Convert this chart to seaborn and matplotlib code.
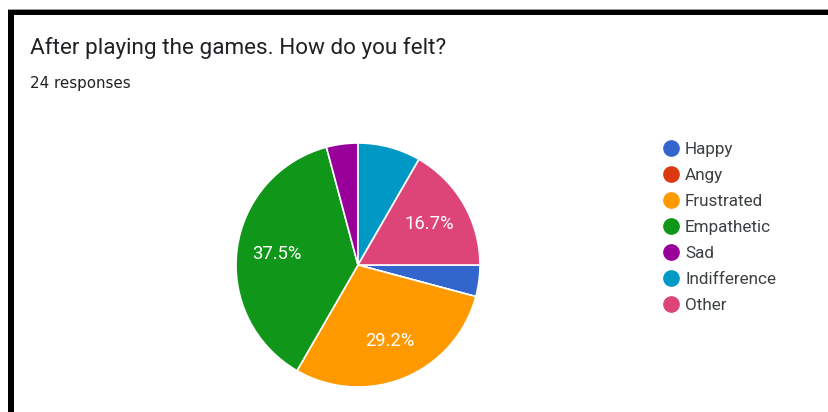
import matplotlib
matplotlib.use("Agg")
import matplotlib.pyplot as plt
from matplotlib.lines import Line2D
from matplotlib.patches import Rectangle
import seaborn as sns

# Survey answers
categories = ["Happy", "Angy", "Frustrated", "Empathetic", "Sad", "Indifference", "Other"]
counts = [1, 0, 7, 9, 1, 2, 4]
colors = ["#3366cc", "#dc3912", "#ff9900", "#109618", "#990099", "#0099c6", "#dd4477"]
title = "After playing the games. How do you felt?"
subtitle = "24 responses"

sns.set_theme(style="white")
plt.rcParams["font.family"] = ["Roboto", "DejaVu Sans"]

W, H = 829, 412
fig = plt.figure(figsize=(W / 100, H / 100), dpi=100)
fig.patch.set_facecolor("white")

def fx(px):
    return px / W

def fy(py):
    return 1 - py / H

# Pie area: centre (358, 265), radius 122 px
cx, cy, r = 358, 265, 122
ax = fig.add_axes([fx(cx - r), fy(cy + r), 2 * r / W, 2 * r / H])

def pct_label(p):
    return f"{p:.1f}%" if p >= 10 else ""

wedges, texts, autotexts = ax.pie(
    counts,
    colors=colors,
    startangle=0,
    counterclock=False,
    autopct=pct_label,
    pctdistance=0.67,
    wedgeprops=dict(edgecolor="white", linewidth=1.2),
    textprops=dict(color="white", fontsize=13.2),
)
ax.set_xlim(-1, 1)
ax.set_ylim(-1, 1)
ax.set_aspect("equal")

# Header texts
fig.text(fx(30), fy(54), title, fontsize=16.2, color="#202124", va="baseline", ha="left")
fig.text(fx(30), fy(88), subtitle, fontsize=10.9, color="#202124", va="baseline", ha="left",
         family="DejaVu Sans")

# Legend
handles = [Line2D([], [], marker="o", linestyle="", markersize=11, color=c) for c in colors]
leg = fig.legend(
    handles, categories,
    loc="upper left",
    bbox_to_anchor=(fx(656), fy(133)),
    frameon=False,
    fontsize=12.3,
    labelspacing=0.65,
    handlelength=0.8,
    handletextpad=0.4,
    borderpad=0,
)
for t in leg.get_texts():
    t.set_color("#3c4043")

# Frame around the card
fig.add_artist(Rectangle((fx(8), fy(15)), 1 - fx(8), 5 / H, transform=fig.transFigure,
                         facecolor="black", edgecolor="none"))
fig.add_artist(Rectangle((fx(8), 0), 6 / W, fy(10), transform=fig.transFigure,
                         facecolor="black", edgecolor="none"))
fig.add_artist(Rectangle((fx(8), fy(10)), 1 - fx(8), 1 / H, transform=fig.transFigure,
                         facecolor="#999999", edgecolor="none"))

fig.savefig("out.png", dpi=100, facecolor="white")
